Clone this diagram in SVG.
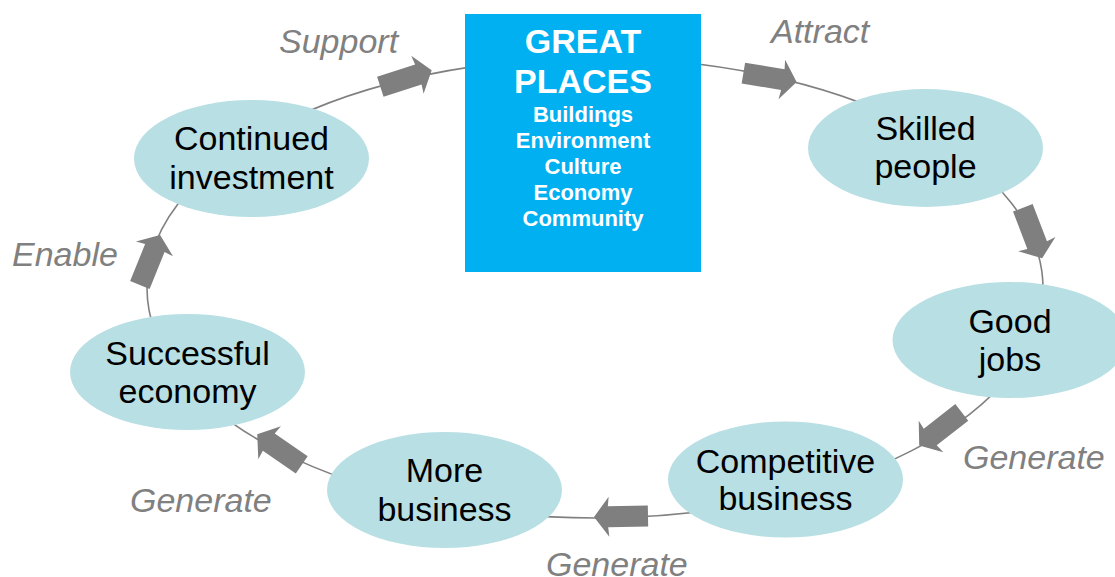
<svg xmlns="http://www.w3.org/2000/svg" xmlns:xlink="http://www.w3.org/1999/xlink" width="1115" height="577" viewBox="0 0 1115 577">
  <style>
    .node { fill: #B8DFE3; }
    .ntext { font-family: "Liberation Sans", Arial, sans-serif; font-size: 34px; fill: #000; text-anchor: middle; }
    .label { font-family: "Liberation Sans", Arial, sans-serif; font-size: 34px; font-style: italic; fill: #808080; }
    .loop { fill: none; stroke: #808080; stroke-width: 1.6; }
    .blk { fill: #7F7F7F; }
    .hub { fill: #00B0F0; }
    .hubT { font-family: "Liberation Sans", Arial, sans-serif; font-weight: bold; fill: #fff; text-anchor: middle; }
  </style>
  <defs>
    <!-- block arrow, centred on the origin, pointing along +x -->
    <path id="blk" d="M-27,-10.5 L13,-10.5 L12,-20 L27,0 L12,20 L13,10.5 L-27,10.5 Z"/>
  </defs>

  <rect width="1115" height="577" fill="#fff"/>

  <!-- connectors: the cycle ring and its block arrows -->
  <g id="connectors">
    <ellipse class="loop" cx="595" cy="288" rx="448" ry="230"/>
    <use href="#blk" class="blk" transform="translate(406,78.5) rotate(-18)"/>
    <use href="#blk" class="blk" transform="translate(770,77.5) rotate(9.5)"/>
    <use href="#blk" class="blk" transform="translate(1032.5,233) rotate(69)"/>
    <use href="#blk" class="blk" transform="translate(940.5,429) rotate(142)"/>
    <use href="#blk" class="blk" transform="translate(621,516.5) rotate(179)"/>
    <use href="#blk" class="blk" transform="translate(279.5,449.5) rotate(214.5)"/>
    <use href="#blk" class="blk" transform="translate(150,260) rotate(-68)"/>
  </g>

  <!-- connector labels -->
  <g id="labels">
    <text class="label" x="279" y="53">Support</text>
    <text class="label" x="771" y="43">Attract</text>
    <text class="label" x="963" y="469">Generate</text>
    <text class="label" x="546" y="576">Generate</text>
    <text class="label" x="130" y="512">Generate</text>
    <text class="label" x="12" y="266">Enable</text>
  </g>

  <!-- central hub -->
  <g id="great-places">
    <rect class="hub" x="465" y="14" width="236" height="258"/>
    <text class="hubT" x="583" y="53" font-size="34">GREAT</text>
    <text class="hubT" x="583" y="93" font-size="34">PLACES</text>
    <text class="hubT" x="583" y="121.5" font-size="22">Buildings</text>
    <text class="hubT" x="583" y="147.5" font-size="22">Environment</text>
    <text class="hubT" x="583" y="173.5" font-size="22">Culture</text>
    <text class="hubT" x="583" y="199.5" font-size="22">Economy</text>
    <text class="hubT" x="583" y="225.5" font-size="22">Community</text>
  </g>

  <g id="skilled-people">
    <ellipse class="node" cx="925.5" cy="148" rx="117.5" ry="59"/>
    <text class="ntext" x="925.5" y="140">Skilled</text>
    <text class="ntext" x="925.5" y="178">people</text>
  </g>

  <g id="good-jobs">
    <ellipse class="node" cx="1010" cy="340" rx="117.5" ry="58"/>
    <text class="ntext" x="1010" y="333">Good</text>
    <text class="ntext" x="1010" y="371">jobs</text>
  </g>

  <g id="competitive-business">
    <ellipse class="node" cx="785.5" cy="479.5" rx="117.5" ry="58"/>
    <text class="ntext" x="785.5" y="473">Competitive</text>
    <text class="ntext" x="785.5" y="510">business</text>
  </g>

  <g id="more-business">
    <ellipse class="node" cx="444.5" cy="490" rx="117.5" ry="58"/>
    <text class="ntext" x="444.5" y="482">More</text>
    <text class="ntext" x="444.5" y="521">business</text>
  </g>

  <g id="successful-economy">
    <ellipse class="node" cx="187.5" cy="372" rx="117.5" ry="58"/>
    <text class="ntext" x="187.5" y="365">Successful</text>
    <text class="ntext" x="187.5" y="403">economy</text>
  </g>

  <g id="continued-investment">
    <ellipse class="node" cx="251.5" cy="158.5" rx="117.5" ry="58.5"/>
    <text class="ntext" x="251.5" y="150">Continued</text>
    <text class="ntext" x="251.5" y="189">investment</text>
  </g>
</svg>
